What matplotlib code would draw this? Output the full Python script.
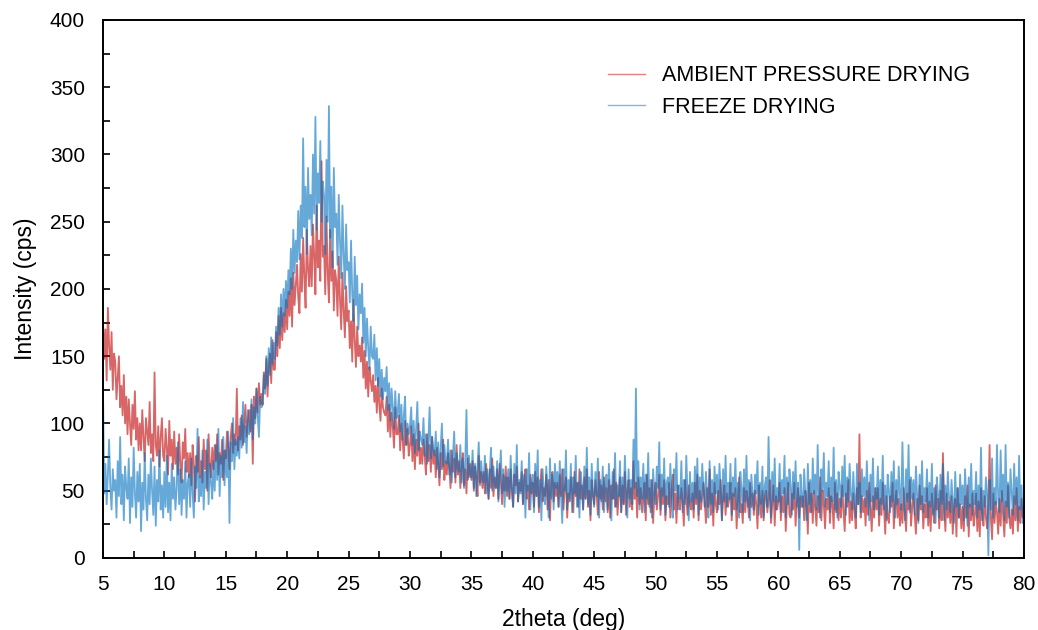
import numpy as np
import matplotlib
matplotlib.use("Agg")
import matplotlib.pyplot as plt
from matplotlib.ticker import MultipleLocator

# 2theta grid: 5.0 .. 80.0 in 0.1 deg steps (rows below = 1 degree each)
two_theta = [round(5 + 0.1 * i, 1) for i in range(751)]

ambient = [
    178, 148, 170, 132, 186, 158, 140, 168, 125, 152,
    146, 118, 134, 150, 112, 128, 106, 136, 100, 120,
    92, 118, 100, 84, 114, 96, 124, 88, 104, 80,
    100, 80, 110, 90, 72, 104, 94, 84, 116, 78,
    92, 72, 138, 84, 76, 98, 68, 90, 104, 76,
    72, 96, 82, 62, 102, 76, 88, 66, 94, 70,
    82, 62, 92, 70, 56, 86, 74, 96, 64, 78,
    60, 78, 54, 84, 70, 42, 76, 64, 90, 60,
    72, 56, 88, 66, 80, 50, 92, 70, 60, 82,
    66, 84, 72, 92, 62, 78, 70, 88, 58, 80,
    74, 94, 82, 66, 90, 100, 78, 92, 84, 126,
    80, 98, 88, 106, 84, 100, 114, 90, 102, 110,
    94, 114, 70, 120, 104, 126, 108, 130, 114, 122,
    114, 138, 126, 148, 120, 142, 152, 130, 162, 140,
    140, 168, 150, 180, 156, 186, 162, 182, 168, 192,
    170, 198, 180, 208, 172, 212, 188, 202, 218, 194,
    182, 226, 198, 238, 208, 186, 244, 214, 202, 232,
    202, 248, 224, 196, 262, 216, 236, 206, 295, 224,
    232, 196, 254, 212, 190, 244, 206, 228, 184, 214,
    206, 180, 224, 192, 170, 212, 184, 164, 202, 176,
    184, 156, 176, 146, 192, 162, 142, 172, 150, 158,
    146, 164, 134, 154, 126, 146, 120, 142, 132, 124,
    136, 116, 128, 108, 134, 114, 102, 126, 112, 108,
    106, 120, 94, 114, 90, 108, 98, 82, 112, 92,
    92, 106, 80, 100, 88, 74, 102, 84, 96, 76,
    84, 98, 72, 92, 66, 88, 76, 100, 70, 82,
    70, 88, 76, 62, 92, 72, 84, 64, 90, 70,
    80, 60, 82, 70, 54, 78, 66, 88, 58, 72,
    62, 78, 68, 52, 80, 64, 74, 56, 84, 62,
    72, 52, 68, 78, 54, 66, 48, 74, 60, 70,
    58, 72, 50, 68, 60, 46, 76, 56, 64, 52,
    64, 48, 70, 56, 44, 66, 52, 74, 46, 60,
    52, 66, 44, 70, 56, 40, 62, 50, 68, 46,
    60, 44, 66, 50, 38, 62, 54, 68, 42, 56,
    50, 64, 40, 58, 66, 44, 54, 36, 62, 48,
    56, 38, 64, 46, 60, 34, 52, 66, 42, 52,
    46, 62, 36, 58, 28, 54, 64, 42, 56, 46,
    56, 38, 62, 46, 66, 36, 52, 60, 30, 48,
    42, 60, 50, 34, 64, 46, 56, 38, 66, 44,
    54, 36, 60, 44, 66, 38, 50, 28, 58, 46,
    40, 58, 48, 32, 64, 44, 54, 36, 60, 42,
    52, 34, 58, 30, 54, 44, 66, 38, 56, 32,
    46, 60, 34, 54, 40, 64, 32, 50, 58, 38,
    52, 36, 72, 44, 56, 30, 60, 40, 52, 34,
    46, 56, 28, 62, 40, 52, 34, 58, 26, 48,
    56, 36, 46, 62, 32, 52, 40, 58, 28, 46,
    40, 56, 30, 50, 62, 36, 48, 26, 54, 42,
    36, 52, 42, 24, 58, 46, 32, 54, 40, 36,
    48, 30, 56, 40, 62, 28, 50, 36, 46, 56,
    42, 26, 52, 38, 66, 32, 48, 24, 56, 40,
    34, 50, 40, 58, 28, 44, 54, 32, 48, 38,
    44, 56, 28, 48, 36, 52, 22, 42, 60, 34,
    40, 26, 52, 34, 50, 44, 30, 56, 38, 48,
    32, 50, 40, 22, 54, 44, 30, 50, 28, 46,
    50, 34, 44, 58, 26, 40, 54, 24, 46, 36,
    42, 56, 28, 46, 34, 52, 20, 40, 56, 32,
    30, 48, 36, 56, 24, 42, 52, 30, 46, 38,
    46, 28, 50, 40, 18, 56, 34, 48, 26, 50,
    38, 24, 46, 34, 60, 28, 50, 40, 22, 44,
    36, 52, 26, 46, 40, 22, 56, 34, 48, 28,
    44, 30, 54, 36, 20, 48, 38, 58, 26, 42,
    28, 48, 36, 22, 52, 40, 92, 30, 46, 34,
    44, 24, 50, 32, 56, 38, 20, 46, 30, 52,
    36, 52, 24, 44, 32, 56, 38, 18, 46, 30,
    26, 46, 38, 56, 22, 40, 50, 30, 44, 24,
    40, 26, 52, 34, 20, 48, 36, 58, 24, 38,
    48, 32, 18, 44, 28, 54, 36, 46, 22, 40,
    30, 52, 24, 42, 20, 48, 34, 26, 54, 36,
    44, 22, 50, 28, 78, 36, 20, 48, 30, 42,
    26, 46, 18, 38, 44, 16, 52, 30, 40, 22,
    38, 20, 46, 30, 54, 16, 40, 28, 48, 24,
    32, 48, 20, 42, 16, 52, 34, 24, 46, 30,
    22, 40, 84, 30, 14, 48, 26, 42, 34, 18,
    44, 24, 50, 32, 16, 42, 26, 54, 30, 22,
    36, 18, 46, 28, 52, 20, 38, 26, 44, 30,
    34,
]

freeze = [
    128, 48, 70, 40, 62, 88, 52, 36, 66, 50,
    58, 30, 72, 46, 90, 40, 62, 28, 68, 52,
    44, 74, 26, 60, 38, 82, 48, 30, 64, 42,
    70, 20, 56, 36, 78, 44, 28, 62, 40, 74,
    50, 32, 68, 24, 58, 42, 80, 36, 54, 30,
    64, 38, 76, 34, 56, 28, 70, 44, 60, 36,
    52, 86, 40, 66, 32, 58, 44, 72, 30, 56,
    62, 38, 74, 48, 30, 68, 52, 96, 42, 60,
    46, 80, 36, 64, 52, 88, 40, 70, 56, 44,
    72, 50, 84, 58, 96, 46, 76, 60, 90, 54,
    80, 60, 94, 26, 86, 72, 104, 66, 88, 76,
    90, 74, 104, 82, 116, 86, 98, 78, 110, 92,
    96, 118, 88, 112, 100, 126, 106, 90, 120, 112,
    114, 136, 122, 150, 128, 156, 136, 164, 144, 160,
    148, 172, 158, 186, 166, 196, 172, 200, 180, 206,
    186, 214, 196, 230, 200, 244, 212, 236, 220, 258,
    222, 262, 238, 312, 246, 276, 226, 290, 252, 270,
    240, 300, 256, 328, 244, 286, 264, 310, 250, 280,
    270, 226, 296, 250, 336, 238, 276, 216, 290, 246,
    256, 218, 270, 236, 208, 262, 226, 200, 248, 214,
    220, 190, 236, 196, 176, 224, 188, 210, 170, 196,
    182, 204, 160, 186, 150, 178, 156, 140, 172, 150,
    148, 166, 132, 156, 128, 148, 120, 140, 118, 134,
    124, 142, 110, 130, 102, 126, 112, 96, 124, 104,
    108, 122, 94, 114, 88, 106, 120, 84, 100, 92,
    98, 112, 84, 102, 78, 96, 116, 80, 94, 88,
    84, 104, 76, 92, 70, 88, 112, 74, 90, 80,
    76, 94, 66, 86, 60, 82, 100, 68, 84, 72,
    70, 88, 62, 80, 56, 76, 94, 60, 78, 66,
    64, 84, 56, 74, 52, 72, 110, 58, 76, 62,
    60, 80, 52, 70, 46, 68, 86, 54, 72, 58,
    56, 76, 48, 66, 44, 64, 82, 50, 68, 54,
    52, 72, 42, 62, 80, 48, 66, 38, 60, 50,
    66, 44, 76, 52, 38, 70, 48, 84, 42, 58,
    48, 72, 40, 62, 30, 66, 50, 78, 36, 56,
    62, 34, 70, 46, 80, 38, 58, 28, 66, 48,
    40, 68, 50, 30, 74, 44, 62, 36, 70, 52,
    64, 38, 72, 46, 26, 66, 50, 80, 36, 58,
    44, 70, 34, 60, 48, 76, 38, 56, 30, 64,
    54, 36, 68, 44, 82, 40, 60, 32, 70, 48,
    38, 64, 46, 74, 30, 58, 42, 68, 34, 56,
    62, 36, 70, 48, 28, 64, 44, 78, 38, 54,
    46, 72, 34, 60, 40, 76, 50, 30, 66, 44,
    58, 40, 88, 52, 126, 46, 72, 36, 60, 44,
    70, 34, 62, 44, 78, 38, 58, 30, 66, 48,
    40, 68, 52, 86, 36, 62, 46, 74, 32, 56,
    60, 38, 70, 46, 30, 66, 50, 78, 36, 54,
    44, 72, 34, 58, 40, 76, 48, 28, 64, 42,
    56, 36, 68, 44, 74, 32, 60, 42, 70, 50,
    38, 64, 46, 30, 72, 40, 58, 34, 68, 48,
    62, 36, 70, 50, 28, 66, 42, 76, 38, 56,
    44, 70, 32, 60, 46, 74, 36, 56, 30, 64,
    52, 34, 66, 42, 76, 38, 58, 28, 62, 46,
    36, 62, 48, 72, 32, 56, 40, 68, 30, 54,
    60, 38, 90, 46, 30, 64, 42, 74, 36, 52,
    42, 70, 34, 58, 48, 76, 30, 60, 40, 66,
    54, 32, 64, 44, 72, 38, 56, 6, 62, 46,
    38, 66, 46, 28, 70, 40, 58, 34, 74, 48,
    62, 36, 84, 44, 30, 66, 50, 78, 38, 56,
    46, 72, 34, 60, 42, 82, 36, 58, 30, 64,
    54, 38, 68, 46, 76, 32, 60, 42, 70, 48,
    36, 64, 44, 30, 70, 40, 56, 34, 66, 46,
    60, 38, 72, 48, 28, 62, 42, 74, 36, 52,
    44, 68, 32, 58, 40, 76, 36, 54, 28, 62,
    50, 34, 64, 42, 72, 30, 58, 40, 68, 46,
    36, 86, 48, 28, 66, 42, 84, 34, 60, 44,
    58, 32, 68, 46, 26, 62, 40, 72, 34, 52,
    42, 66, 30, 56, 38, 70, 32, 52, 26, 60,
    48, 30, 62, 40, 70, 28, 54, 36, 64, 44,
    34, 58, 42, 26, 64, 38, 52, 30, 62, 40,
    54, 28, 66, 44, 24, 60, 38, 70, 32, 50,
    40, 64, 30, 54, 36, 82, 28, 50, 38, 60,
    46, 2, 58, 36, 74, 30, 52, 40, 84, 44,
    34, 80, 42, 62, 28, 84, 38, 56, 30, 66,
    48, 32, 70, 40, 60, 28, 76, 36, 54, 26,
    38,
]

series_labels = ["AMBIENT PRESSURE DRYING", "FREEZE DRYING"]
x_label = "2theta (deg)"
y_label = "Intensity (cps)"

plt.rcParams['font.family'] = ['Liberation Sans', 'DejaVu Sans']

fig = plt.figure(figsize=(10.38, 6.3), dpi=100)
ax = fig.add_axes([0.0992, 0.1143, 0.8873, 0.8540])

ax.plot(two_theta, ambient, color="#C00000", lw=1.3, alpha=0.6, label=series_labels[0])
ax.plot(two_theta, freeze, color="#0070C0", lw=1.3, alpha=0.6, label=series_labels[1])

ax.set_xlim(5, 80)
ax.set_ylim(0, 400)
ax.xaxis.set_major_locator(MultipleLocator(5))
ax.xaxis.set_minor_locator(MultipleLocator(2.5))
ax.yaxis.set_major_locator(MultipleLocator(50))
ax.yaxis.set_minor_locator(MultipleLocator(25))
ax.tick_params(which='both', direction='in', length=5, width=1.2, labelsize=15,
               colors='black')
ax.tick_params(axis='x', which='both', pad=12)
ax.tick_params(axis='y', which='both', pad=13)
for s in ax.spines.values():
    s.set_linewidth(1.4)
    s.set_color('black')

ax.set_xlabel(x_label, fontsize=16.5, labelpad=10)
ax.set_ylabel(y_label, fontsize=16.5, labelpad=9.5)

leg = ax.legend(loc='upper left', bbox_to_anchor=(0.5365, 0.936), frameon=False,
                fontsize=15.5, handlelength=1.72, handletextpad=0.8,
                labelspacing=0.5, borderpad=0)
for ln in leg.get_lines():
    ln.set_linewidth(1.0)
    ln.set_alpha(0.5)

fig.savefig("out.png", dpi=100)
